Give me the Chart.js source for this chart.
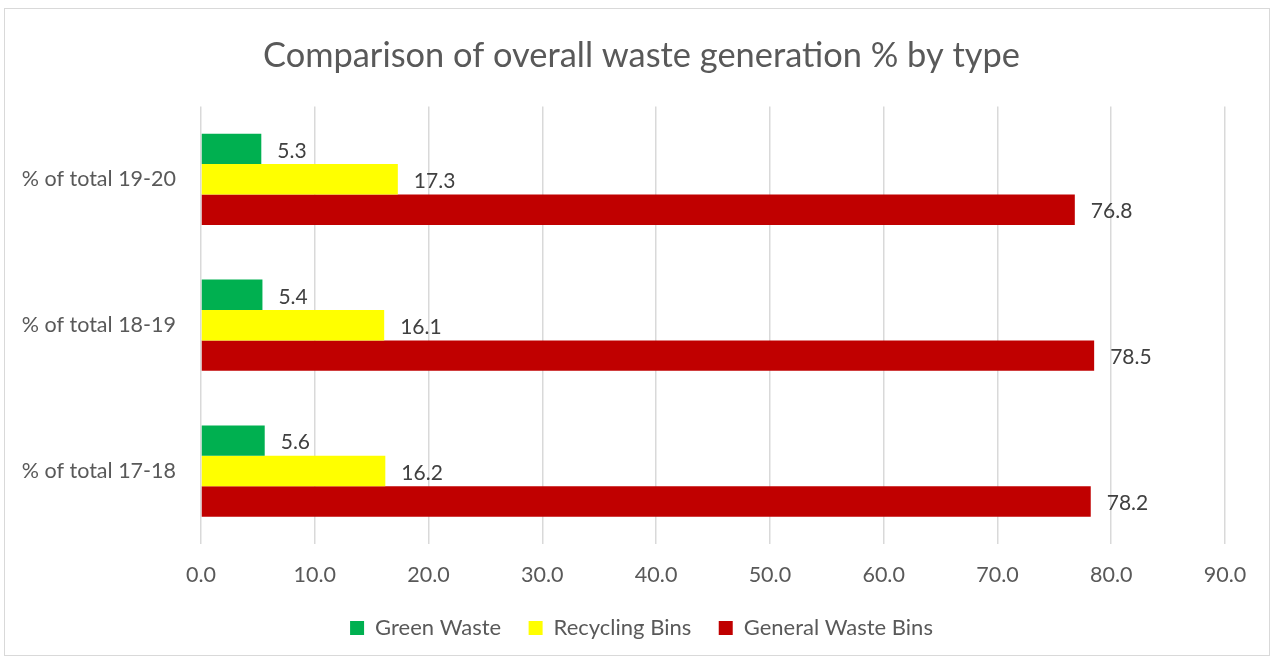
<!DOCTYPE html>
<html>
<head>
<meta charset="utf-8">
<script src="https://cdn.jsdelivr.net/npm/chart.js@4"></script>
<style>
  html, body { margin: 0; padding: 0; background: #ffffff; }
  #wrap { position: absolute; left: 0; top: 0; width: 1273px; height: 659px; }
  #frame { position: absolute; left: 4px; top: 8px; width: 1266px; height: 648px; border: 1px solid #d9d9d9; box-sizing: border-box; pointer-events: none; }
</style>
</head>
<body>
<div id="wrap">
  <canvas id="c" width="1273" height="659"></canvas>
  <div id="frame"></div>
</div>
<script>
const categories = ['% of total 19-20', '% of total 18-19', '% of total 17-18'];
const greenWaste = [5.3, 5.4, 5.6];
const recyclingBins = [17.3, 16.1, 16.2];
const generalWasteBins = [76.8, 78.5, 78.2];
const seriesNames = ['Green Waste', 'Recycling Bins', 'General Waste Bins'];
const xTicks = [0, 10, 20, 30, 40, 50, 60, 70, 80, 90];

const FONT = "Lato, 'Open Sans', sans-serif";
const TEXT = '#595959';

const valueLabels = {
  id: 'valueLabels',
  afterDatasetsDraw(chart) {
    const ctx = chart.ctx;
    ctx.save();
    ctx.font = '21px ' + FONT;
    ctx.fillStyle = '#404040';
    ctx.textAlign = 'left';
    ctx.textBaseline = 'middle';
    chart.data.datasets.forEach((ds, i) => {
      const meta = chart.getDatasetMeta(i);
      meta.data.forEach((bar, j) => {
        ctx.fillText(ds.data[j].toFixed(1), bar.x + 16, bar.y + 2);
      });
    });
    ctx.restore();
  }
};

new Chart(document.getElementById('c'), {
  type: 'bar',
  data: {
    labels: categories,
    datasets: [
      { label: seriesNames[0], data: greenWaste, backgroundColor: '#00B050' },
      { label: seriesNames[1], data: recyclingBins, backgroundColor: '#FFFF00' },
      { label: seriesNames[2], data: generalWasteBins, backgroundColor: '#C00000' }
    ]
  },
  options: {
    indexAxis: 'y',
    responsive: false,
    animation: false,
    devicePixelRatio: 1,
    layout: { padding: { top: 10, left: 17, right: 7, bottom: 10 } },
    datasets: { bar: { categoryPercentage: 0.625, barPercentage: 1.0 } },
    scales: {
      x: {
        min: 0, max: 90,
        afterBuildTicks(scale) { scale.ticks = xTicks.map(v => ({ value: v })); },
        afterFit(scale) { scale.paddingRight = 48; scale.paddingLeft = 0; scale.height = 45.5; },
        ticks: { color: TEXT, font: { family: FONT, size: 21.5 }, padding: 18.6,
                 callback: v => Number(v).toFixed(1) },
        grid: { color: '#d9d9d9', lineWidth: 1.5, drawTicks: false },
        border: { display: false }
      },
      y: {
        afterFit(scale) { scale.width = 184; scale.paddingTop = 0; scale.paddingBottom = 0; },
        ticks: { color: TEXT, font: { family: FONT, size: 21.5 }, padding: 25 },
        grid: { display: false, drawTicks: false },
        border: { display: false }
      }
    },
    plugins: {
      title: {
        display: true,
        text: 'Comparison of overall waste generation % by type',
        color: TEXT,
        font: { family: FONT, size: 34.4, weight: 'normal' },
        padding: { top: 25, bottom: 30.1 }
      },
      legend: {
        position: 'bottom',
        labels: { color: TEXT, font: { family: FONT, size: 22 }, boxWidth: 14, boxHeight: 14, padding: 27.5 }
      },
      tooltip: { enabled: false }
    }
  },
  plugins: [valueLabels]
});
</script>
</body>
</html>
